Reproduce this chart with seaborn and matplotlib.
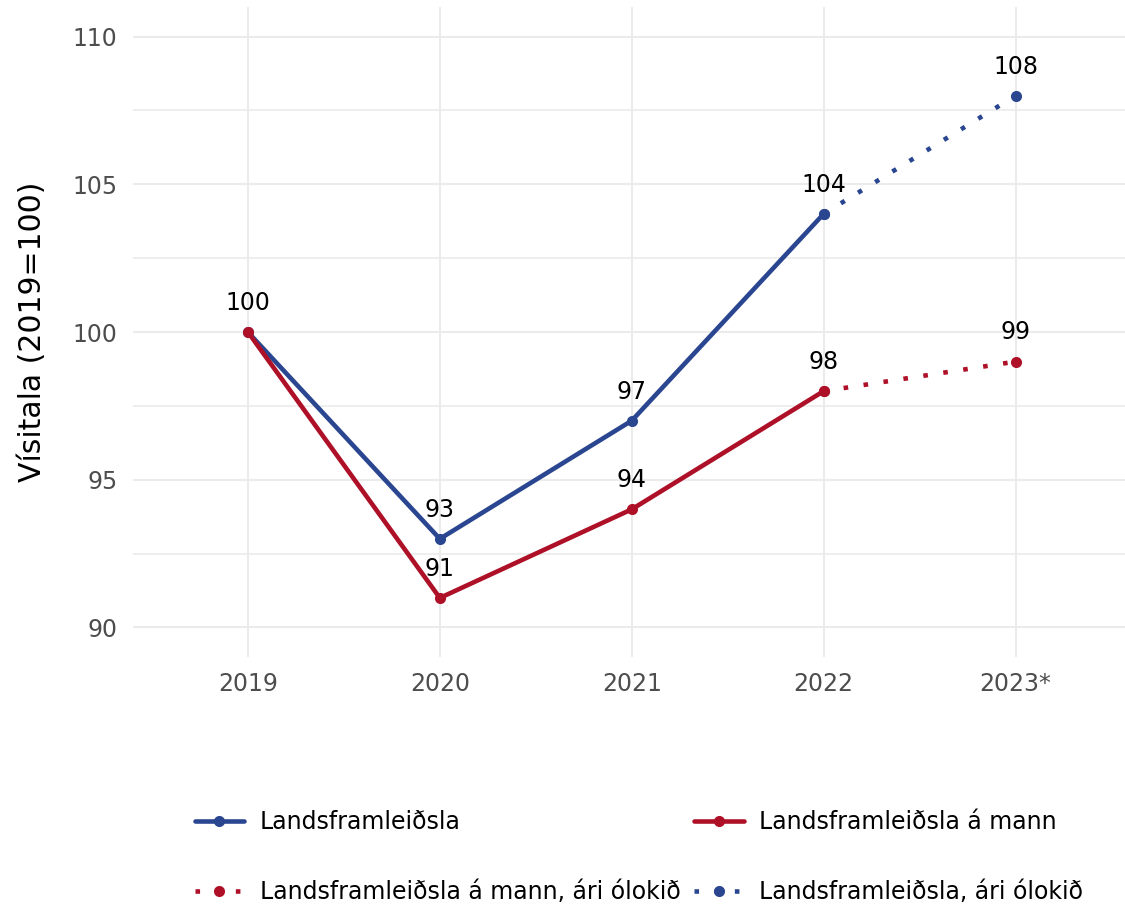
import numpy as np
import pandas as pd
import seaborn as sns
import matplotlib.pyplot as plt
from matplotlib.lines import Line2D
from matplotlib.ticker import MultipleLocator

# values (index 2019 = 100)
years = ['2019', '2020', '2021', '2022', '2023*']
gdp = [100, 93, 97, 104]
gdp_pc = [100, 91, 94, 98]
gdp_est_years = ['2022', '2023*']
gdp_est = [104, 108]
gdp_pc_est = [98, 99]

s_gdp = 'Landsframleiðsla'
s_gdp_pc = 'Landsframleiðsla á mann'
s_gdp_pc_est = 'Landsframleiðsla á mann, ári ólokið'
s_gdp_est = 'Landsframleiðsla, ári ólokið'

blue = '#2B4690'
red = '#AE1028'
dots = (1, 3.4)

df = pd.concat([
    pd.DataFrame({'year': years[:4], 'value': gdp, 'series': s_gdp}),
    pd.DataFrame({'year': years[:4], 'value': gdp_pc, 'series': s_gdp_pc}),
    pd.DataFrame({'year': gdp_est_years, 'value': gdp_pc_est, 'series': s_gdp_pc_est}),
    pd.DataFrame({'year': gdp_est_years, 'value': gdp_est, 'series': s_gdp_est}),
])
df['x'] = df['year'].map({y: i for i, y in enumerate(years)})

palette = {s_gdp: blue, s_gdp_pc: red, s_gdp_pc_est: red, s_gdp_est: blue}
dashes = {s_gdp: '', s_gdp_pc: '', s_gdp_pc_est: dots, s_gdp_est: dots}

sns.set_style('white')
plt.rcParams['font.family'] = ['DejaVu Sans']

fig = plt.figure(figsize=(11.25, 9.06), dpi=100)
ax = fig.add_axes([0.118, 0.2748, 0.882, 0.7174])

sns.lineplot(data=df, x='x', y='value', hue='series', style='series',
             palette=palette, dashes=dashes, markers={k: 'o' for k in palette},
             markersize=8, markeredgewidth=0, linewidth=3.3, legend=False, ax=ax)

# data labels
labels = df.drop_duplicates(subset=['x', 'value'])
for _, r in labels.iterrows():
    ax.annotate(f"{r['value']:.0f}", (r['x'], r['value']), xytext=(0, 21),
                textcoords='offset points', ha='center', va='center',
                fontsize=17, color='black')

ax.set_xlim(-0.6, 4.57)
ax.set_ylim(89, 111)
ax.set_xticks(range(len(years)))
ax.set_xticklabels(years)
ax.yaxis.set_major_locator(MultipleLocator(5))
ax.yaxis.set_minor_locator(MultipleLocator(2.5))
ax.grid(True, which='major', color='#EBEBEB', linewidth=1.5)
ax.grid(True, which='minor', axis='y', color='#EBEBEB', linewidth=1.2)
ax.set_axisbelow(True)
ax.tick_params(which='both', length=0, pad=11, labelsize=17, labelcolor='#4D4D4D')
for sp in ax.spines.values():
    sp.set_visible(False)
ax.set_xlabel('')
ax.set_ylabel('Vísitala (2019=100)', fontsize=21.5, labelpad=18, color='black')

handles = [
    Line2D([], [], color=blue, lw=3.3, marker='o', markersize=8, markeredgewidth=0),
    Line2D([], [], color=red, lw=3.3, marker='o', markersize=8, markeredgewidth=0,
           dashes=dots),
    Line2D([], [], color=red, lw=3.3, marker='o', markersize=8, markeredgewidth=0),
    Line2D([], [], color=blue, lw=3.3, marker='o', markersize=8, markeredgewidth=0,
           dashes=dots),
]
names = [s_gdp, s_gdp_pc_est, s_gdp_pc, s_gdp_est]
leg = fig.legend(handles, names, loc='center', bbox_to_anchor=(0.568, 0.054), ncol=2,
                 frameon=False, fontsize=17, handlelength=2.1, handletextpad=0.65,
                 columnspacing=0.6, labelspacing=1.95)
for t in leg.get_texts():
    t.set_color('black')

fig.savefig('out.png', dpi=100)
